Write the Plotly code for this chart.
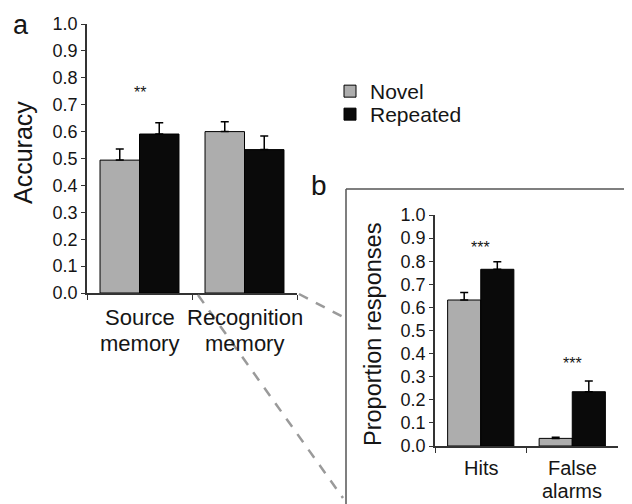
import plotly.graph_objects as go

# ---------------- data ----------------
series_names = ["Novel", "Repeated"]

cats_a = ["Source<br>memory", "Recognition<br>memory"]
novel_a = [0.494, 0.600]
novel_a_err = [0.041, 0.037]
rep_a = [0.591, 0.533]
rep_a_err = [0.042, 0.051]
sig_a = ["**", ""]
sig_a_y = [0.747, 0.0]

cats_b = ["Hits", "False<br>alarms"]
novel_b = [0.632, 0.033]
novel_b_err = [0.032, 0.005]
rep_b = [0.765, 0.235]
rep_b_err = [0.033, 0.046]
sig_b = ["***", "***"]
sig_b_y = [0.861, 0.359]

yticks = [i / 10 for i in range(11)]

# ---------------- style ----------------
# the page body has an 8px margin, so the figure is 8px smaller than the window
OFF = 8
W, H = 632 - OFF, 504 - OFF
FONT = "Liberation Sans, Arial, Helvetica, sans-serif"
C_NOVEL = "#adadad"
C_REP = "#0a0a0a"
AX = "#333333"
TXT = "#151515"


def px(x):
    """window pixel x -> paper fraction"""
    return (x - OFF) / W


def py(y):
    """window pixel y -> paper fraction"""
    return 1 - (y - OFF) / H


fig = go.Figure()

w_a = 0.376
w_b = 0.362
for cats, vals, errs, color, name, off, w, xa, ya, show, lg in [
    (cats_a, novel_a, novel_a_err, C_NOVEL, series_names[0], -1, w_a, "x", "y", True, "legend"),
    (cats_a, rep_a, rep_a_err, C_REP, series_names[1], 0, w_a, "x", "y", True, "legend2"),
    (cats_b, novel_b, novel_b_err, C_NOVEL, series_names[0], -1, w_b, "x2", "y2", False, "legend"),
    (cats_b, rep_b, rep_b_err, C_REP, series_names[1], 0, w_b, "x2", "y2", False, "legend2"),
]:
    fig.add_trace(go.Bar(
        x=cats, y=vals, name=name, legendgroup=name, showlegend=show, legend=lg,
        width=w, offset=off * w,
        marker=dict(color=color, line=dict(color="#000000", width=1)),
        error_y=dict(type="data", symmetric=False, array=errs,
                     arrayminus=[0] * len(errs), color="#000000",
                     thickness=1.5, width=4),
        xaxis=xa, yaxis=ya,
    ))

common_y = dict(range=[0, 1], tickvals=yticks, tickformat=".1f",
                showline=True, linecolor=AX, linewidth=1.5,
                ticks="outside", ticklen=4, tickcolor=AX, tickwidth=1.2,
                showgrid=False, zeroline=False, fixedrange=True, automargin=False,
                tickfont=dict(size=18, color=TXT, family=FONT))
common_x = dict(type="category", tickson="boundaries", range=[-0.5, 1.5],
                showline=True, linecolor=AX, linewidth=1.5, showticklabels=False,
                ticks="outside", ticklen=5, tickcolor=AX, tickwidth=1.2,
                showgrid=False, zeroline=False, fixedrange=True, automargin=False)

leg_common = dict(xanchor="left", yanchor="top",
                  font=dict(size=21, family=FONT, color=TXT),
                  bgcolor="rgba(0,0,0,0)", itemwidth=30)

fig.update_layout(
    width=W, height=H,
    margin=dict(l=0, r=0, t=0, b=0, autoexpand=False),
    paper_bgcolor="white", plot_bgcolor="white",
    barmode="overlay",
    font=dict(family=FONT, color=TXT),
    showlegend=True,
    legend=dict(x=px(330), y=py(71), **leg_common),
    legend2=dict(x=px(330), y=py(94), **leg_common),
    xaxis=dict(domain=[px(87), px(297)], anchor="y", **common_x),
    yaxis=dict(domain=[py(293), py(24)], anchor="x", **common_y),
    xaxis2=dict(domain=[px(435), px(618)], anchor="y2", **common_x),
    yaxis2=dict(domain=[py(446), py(215)], anchor="x2", **common_y),
)

# axis titles
fig.add_annotation(x=px(23), y=py(153), xref="paper", yref="paper", text="Accuracy",
                   textangle=-90, showarrow=False, xanchor="center", yanchor="middle",
                   font=dict(size=25, family=FONT, color=TXT))
fig.add_annotation(x=px(373), y=py(335), xref="paper", yref="paper",
                   text="Proportion responses",
                   textangle=-90, showarrow=False, xanchor="center", yanchor="middle",
                   font=dict(size=23.5, family=FONT, color=TXT))

# category labels (two lines each, tight line spacing)
for cats, xr, bottoms, fs in [(cats_a, "x", [331, 357], 22), (cats_b, "x2", [480, 503], 20)]:
    for cat in cats:
        for i, line in enumerate(cat.split("<br>")):
            fig.add_annotation(x=cat, y=py(bottoms[i]), xref=xr, yref="paper", text=line,
                               showarrow=False, xanchor="center", yanchor="bottom",
                               borderpad=0,
                               font=dict(size=fs, family=FONT, color=TXT))

# significance stars
for cat, s, yv in zip(cats_a, sig_a, sig_a_y):
    if s:
        fig.add_annotation(x=cat, y=yv, xref="x", yref="y", text=s, showarrow=False,
                           font=dict(size=16, family=FONT, color=TXT))
for cat, s, yv in zip(cats_b, sig_b, sig_b_y):
    if s:
        fig.add_annotation(x=cat, y=yv, xref="x2", yref="y2", text=s, showarrow=False,
                           font=dict(size=16, family=FONT, color=TXT))

# panel letters
fig.add_annotation(x=px(11), y=py(8.5), xref="paper", yref="paper", text="a",
                   showarrow=False, xanchor="left", yanchor="top",
                   font=dict(size=27, family=FONT, color=TXT))
fig.add_annotation(x=px(309), y=py(203), xref="paper", yref="paper", text="b",
                   showarrow=False, xanchor="left", yanchor="bottom",
                   font=dict(size=28, family=FONT, color=TXT))

# inset frame (left and top edges)
fig.add_shape(type="line", xref="paper", yref="paper",
              x0=px(346), y0=py(189), x1=px(346), y1=py(504),
              line=dict(color="#555555", width=1.5))
fig.add_shape(type="line", xref="paper", yref="paper",
              x0=px(346), y0=py(189), x1=px(632), y1=py(189),
              line=dict(color="#555555", width=1.5))

# dashed zoom connectors
fig.add_shape(type="line", xref="paper", yref="paper",
              x0=px(299), y0=py(294), x1=px(345), y1=py(318),
              line=dict(color="#9a9a9a", width=2.5, dash="10px,9px"))
fig.add_shape(type="line", xref="paper", yref="paper",
              x0=px(198), y0=py(295), x1=px(343), y1=py(498),
              line=dict(color="#9a9a9a", width=2.5, dash="10px,9px"))

fig.write_html("out.html")
